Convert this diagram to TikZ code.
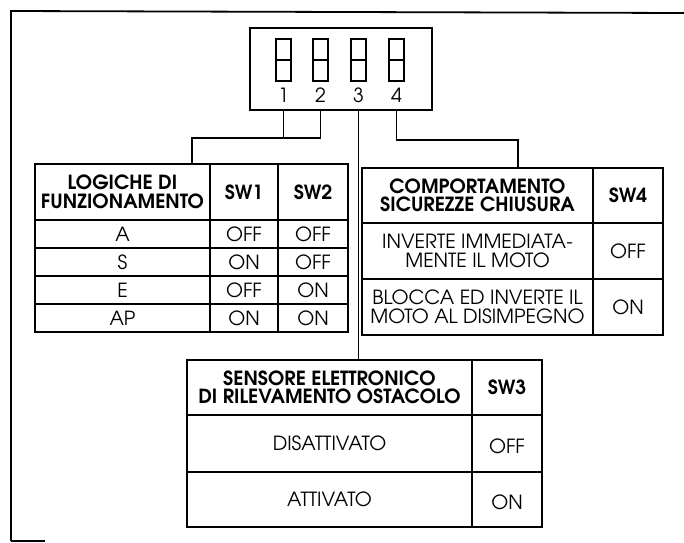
\documentclass[tikz,border=0pt]{standalone}
\usepackage{fontspec}
\setmainfont{texgyreadventor}[Extension=.otf,UprightFont=*-regular,BoldFont=*-bold]
\begin{document}
\begin{tikzpicture}[x=1pt,y=-1pt, line width=1.2pt,
  box/.style={draw, inner sep=0pt, outer sep=0pt, anchor=north west},
  txt/.style={font=\fontsize{19.5}{19}\selectfont, inner sep=0pt, align=center},
  hdr/.style={font=\bfseries\fontsize{19.5}{18.5}\selectfont, inner sep=0pt, align=center},
  frame/.style={line width=1.8pt}]
\useasboundingbox (0,0) rectangle (684,542);
% outer frame
\draw[frame] (11,541) -- (11,11) -- (684,13);
\draw[frame] (11,541) -- (45,541);
% DIP switch
\node[box, minimum width=182pt, minimum height=82pt] (dip) at (250,28) {};
\foreach \i/\x in {1/276,2/313,3/351,4/389}{
  \node[box, minimum width=15pt, minimum height=42pt] (s\i) at (\x,39) {};
  \draw (s\i.west) -- (s\i.east);
  \node[txt] (n\i) at (s\i.south |- 0,95) {\i};
}
% tables
\node[box, minimum width=313pt, minimum height=168pt] (tabL) at (35,164) {};
\draw (210,164) -- (210,332) (278,164) -- (278,332);
\foreach \y in {220,248,276,304} \draw (35,\y) -- (348,\y);
\node[hdr] (hL) at (122.5,192) {LOGICHE DI\\FUNZIONAMENTO};
\node[hdr] (hL1) at (244,192) {SW1};
\node[hdr] (hL2) at (313,192) {SW2};
\foreach \n/\a/\b/\c/\y in {a/A/OFF/OFF/234,s/S/ON/OFF/262,e/E/OFF/ON/290,p/AP/ON/ON/318}{
  \node[txt] (l\n0) at (122.5,\y) {\a};
  \node[txt] (l\n1) at (244,\y) {\b};
  \node[txt] (l\n2) at (313,\y) {\c};
}
\node[box, minimum width=301pt, minimum height=167pt] (tabR) at (362,168) {};
\draw (593,168) -- (593,335);
\foreach \y in {223,279} \draw (362,\y) -- (663,\y);
\node[hdr] (hR) at (477.5,195.5) {COMPORTAMENTO\\SICUREZZE CHIUSURA};
\node[hdr] (hR1) at (628,195.5) {SW4};
\node[txt] (r10) at (477.5,251) {INVERTE IMMEDIATA-\\MENTE IL MOTO};
\node[txt] (r11) at (628,251) {OFF};
\node[txt] (r20) at (477.5,307) {BLOCCA ED INVERTE IL\\MOTO AL DISIMPEGNO};
\node[txt] (r21) at (628,307) {ON};
\node[box, minimum width=355pt, minimum height=167pt] (tabS) at (187,360) {};
\draw (472,360) -- (472,527);
\foreach \y in {415,472} \draw (187,\y) -- (542,\y);
\node[hdr] (hS) at (329.5,387.5) {SENSORE ELETTRONICO\\DI RILEVAMENTO OSTACOLO};
\node[hdr] (hS1) at (507,387.5) {SW3};
\node[txt] (s10) at (329.5,443.5) {DISATTIVATO};
\node[txt] (s11) at (507,446) {OFF};
\node[txt] (s20) at (329.5,499.5) {ATTIVATO};
\node[txt] (s21) at (507,502) {ON};
% connectors
\coordinate (j12) at (192,138);
\coordinate (j4) at (518,140);
\draw (n1 |- dip.south) -- (n1 |- j12);
\draw (n2 |- dip.south) -- (n2 |- j12) -- (j12) -- (j12 |- tabL.north);
\draw (n3 |- dip.south) -- (n3 |- tabS.north);
\draw (n4 |- dip.south) -- (n4 |- j4) -- (j4) -- (j4 |- tabR.north);
\end{tikzpicture}
\end{document}
